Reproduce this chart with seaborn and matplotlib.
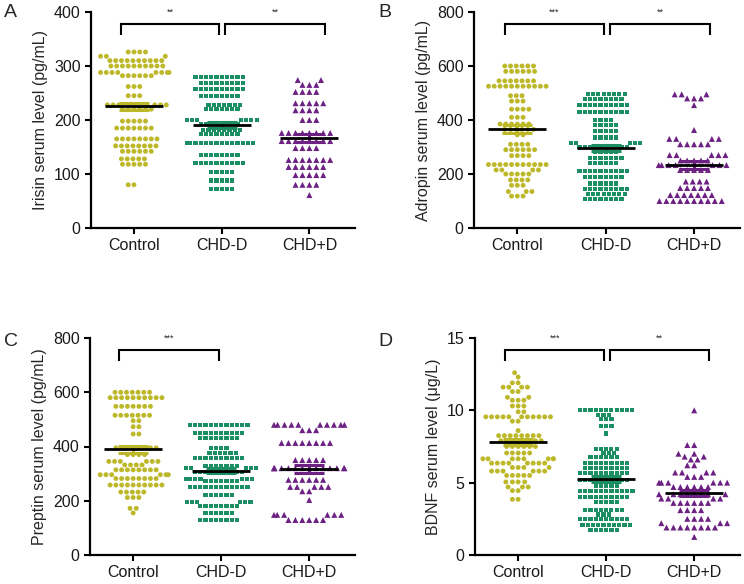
import numpy as np
import pandas as pd
import matplotlib
matplotlib.use("Agg")
import matplotlib.pyplot as plt
import seaborn as sns
import warnings
warnings.filterwarnings("ignore")

groups = ["Control", "CHD-D", "CHD+D"]

# ---- Irisin (pg/mL) : row values and number of points in each row ----
irisin_control_levels = [326, 318, 310, 300, 288, 282, 262, 245, 228, 220, 198, 185, 165, 152,
                         142, 128, 118, 80]
irisin_control_counts = [4, 3, 10, 10, 8, 6, 3, 3, 6, 6, 5, 7, 8, 8, 6, 5, 5, 2]
irisin_chdd_levels = [280, 269, 258, 245, 228, 220, 200, 193, 182, 174, 158, 135, 120, 104,
                      88, 72]
irisin_chdd_counts = [10, 9, 10, 8, 7, 7, 10, 8, 8, 8, 14, 8, 10, 5, 5, 5]
irisin_chdpd_levels = [274, 265, 252, 231, 218, 200, 176, 161, 148, 126, 113, 98, 80, 61]
irisin_chdpd_counts = [2, 3, 4, 5, 4, 3, 8, 8, 4, 7, 6, 5, 4, 1]

# ---- Adropin (pg/mL) ----
adropin_control_levels = [600, 580, 545, 525, 490, 470, 440, 410, 385, 365, 345, 310, 290,
                          268, 235, 215, 200, 178, 158, 135, 118]
adropin_control_counts = [6, 6, 7, 11, 3, 3, 4, 3, 6, 6, 2, 4, 6, 4, 11, 4, 5, 4, 3, 3, 3]
adropin_chdd_levels = [495, 478, 455, 430, 400, 380, 360, 335, 315, 300, 280, 260, 240,
                       210, 190, 165, 145, 125, 108]
adropin_chdd_counts = [8, 8, 10, 10, 4, 5, 5, 5, 5, 10, 5, 7, 6, 10, 8, 6, 9, 8, 8]
adropin_chdpd_levels = [495, 480, 455, 363, 330, 310, 270, 250, 233, 215, 172, 148, 122, 100]
adropin_chdpd_counts = [3, 3, 1, 1, 4, 5, 5, 5, 7, 5, 4, 5, 7, 10]

# ---- Preptin (pg/mL) ----
preptin_control_levels = [600, 580, 548, 515, 495, 473, 446, 395, 370, 345, 332, 314, 296, 282,
                          258, 232, 212, 172, 155]
preptin_control_counts = [7, 10, 7, 7, 2, 2, 2, 8, 4, 6, 4, 8, 6, 8, 10, 5, 3, 2, 1]
preptin_chdd_levels = [480, 450, 431, 395, 376, 358, 328, 320, 307, 280, 273, 251, 221,
                       196, 181, 155, 130]
preptin_chdd_counts = [12, 10, 8, 4, 6, 10, 7, 7, 10, 7, 7, 12, 6, 6, 8, 6, 8]
preptin_chdpd_levels = [480, 460, 413, 350, 320, 277, 251, 235, 203, 148, 129]
preptin_chdpd_counts = [10, 3, 8, 5, 14, 6, 5, 2, 1, 6, 6]

# ---- BDNF (ug/L) ----
bdnf_control_levels = [12.6, 12.3, 11.9, 11.6, 11.3, 10.9, 10.7, 10.3, 9.9, 9.55, 9.25, 8.6, 8.25,
                       7.9, 7.5, 7.05, 6.65, 6.35, 6.05, 5.8, 5.5, 5.05, 4.7, 4.45, 3.85]
bdnf_control_counts = [1, 1, 2, 4, 2, 2, 3, 3, 2, 11, 2, 1, 8, 8, 6, 5, 8, 8, 4, 6, 5, 4, 3, 2, 2]
bdnf_chdd_levels = [10.0, 9.7, 9.4, 8.9, 8.4, 7.35, 7.05, 6.75, 6.35, 6.0, 5.65, 5.2, 4.8,
                    4.4, 4.0, 3.65, 3.1, 2.8, 2.5, 2.05, 1.75]
bdnf_chdd_counts = [11, 3, 3, 3, 1, 5, 3, 6, 9, 9, 10, 10, 5, 11, 10, 5, 8, 3, 10, 10, 6]
bdnf_chdpd_levels = [10.0, 7.6, 7.0, 6.8, 6.6, 6.2, 5.7, 5.4, 5.0, 4.7, 4.2, 3.9, 3.6, 3.1, 2.5,
                     2.2, 1.9, 1.25]
bdnf_chdpd_counts = [1, 2, 2, 2, 2, 2, 4, 3, 6, 6, 8, 4, 6, 4, 4, 3, 8, 1]

colors = ["#bdb829", "#1b8f63", "#6c2183"]
markers = ["o", "s", "^"]
msizes = [3.5, 3.0, 4.3]
gaps = [0.45, 0.6, 0.45]

sns.set_style("ticks")
plt.rcParams["font.family"] = ["Liberation Sans", "DejaVu Sans"]

fig = plt.figure(figsize=(7.44, 5.84), dpi=100)
W, H = 744, 584


def make_ax(left, right, top, bottom):
    return fig.add_axes([left / W, 1 - bottom / H, (right - left) / W, (bottom - top) / H])


def panel(ax, levels, counts, ylabel, ymax, ystep, brackets):
    frames = []
    for g, lv, ct in zip(groups, levels, counts):
        frames.append(pd.DataFrame({"group": g, "value": np.repeat(lv, ct)}))
    df = pd.concat(frames, ignore_index=True)
    for g, c, m, s, gp in zip(groups, colors, markers, msizes, gaps):
        # invisible edge keeps a small gap between neighbouring markers
        sns.swarmplot(data=df[df.group == g], x="group", y="value", order=groups,
                      color=c, marker=m, size=s, linewidth=gp, edgecolor="none",
                      ax=ax, zorder=2)
    for i, (g, c) in enumerate(zip(groups, colors)):
        v = df.value[df.group == g].to_numpy()
        mean = v.mean()
        sem = v.std(ddof=1) / np.sqrt(len(v))
        ax.hlines([mean - sem, mean + sem], i - 0.17, i + 0.17, color=c, lw=2.2, zorder=4)
        ax.vlines(i, mean - sem, mean + sem, color=c, lw=2.2, zorder=4)
        ax.hlines(mean, i - 0.33, i + 0.33, color="black", lw=2.0, zorder=5)
    ax.set_xlim(-0.49, 2.52)
    ax.set_ylim(0, ymax)
    ax.set_yticks(np.arange(0, ymax + ystep / 2, ystep))
    ax.set_xlabel("")
    ax.set_ylabel(ylabel, fontsize=11.5, labelpad=4)
    ax.tick_params(axis="both", labelsize=11.5, width=1.5, length=4, color="black",
                   labelcolor="#1a1a1a")
    for sp in ["left", "bottom"]:
        ax.spines[sp].set_linewidth(1.6)
        ax.spines[sp].set_color("black")
    sns.despine(ax=ax)
    for x1, x2, stars in brackets:
        yt, yl = 0.943 * ymax, 0.893 * ymax
        ax.plot([x1, x1, x2, x2], [yl, yt, yt, yl], color="black", lw=1.5,
                clip_on=False, solid_capstyle="butt", solid_joinstyle="miter")
        ax.text((x1 + x2) / 2, 1.0 * ymax, stars, fontsize=6.5, ha="center",
                va="center", clip_on=False)


axA = make_ax(91, 355, 12, 228)
panel(axA, [irisin_control_levels, irisin_chdd_levels, irisin_chdpd_levels],
      [irisin_control_counts, irisin_chdd_counts, irisin_chdpd_counts],
      "Irisin serum level (pg/mL)", 400, 100,
      [(-0.15, 0.97, "**"), (1.04, 2.18, "**")])

axB = make_ax(474, 740, 12, 228)
panel(axB, [adropin_control_levels, adropin_chdd_levels, adropin_chdpd_levels],
      [adropin_control_counts, adropin_chdd_counts, adropin_chdpd_counts],
      "Adropin serum level (pg/mL)", 800, 200,
      [(-0.14, 0.98, "***"), (1.05, 2.18, "**")])

axC = make_ax(90, 355, 338, 555)
panel(axC, [preptin_control_levels, preptin_chdd_levels, preptin_chdpd_levels],
      [preptin_control_counts, preptin_chdd_counts, preptin_chdpd_counts],
      "Preptin serum level (pg/mL)", 800, 200,
      [(-0.16, 0.98, "***")])

axD = make_ax(475, 740, 338, 555)
panel(axD, [bdnf_control_levels, bdnf_chdd_levels, bdnf_chdpd_levels],
      [bdnf_control_counts, bdnf_chdd_counts, bdnf_chdpd_counts],
      "BDNF serum level (μg/L)", 15, 5,
      [(-0.15, 0.98, "***"), (1.04, 2.17, "**")])

for lbl, x, y in [("A", 4, 4), ("B", 378, 4), ("C", 4, 333), ("D", 378, 333)]:
    fig.text(x / W, 1 - y / H, lbl, fontsize=14, ha="left", va="top")

fig.savefig("out.png", dpi=100)
